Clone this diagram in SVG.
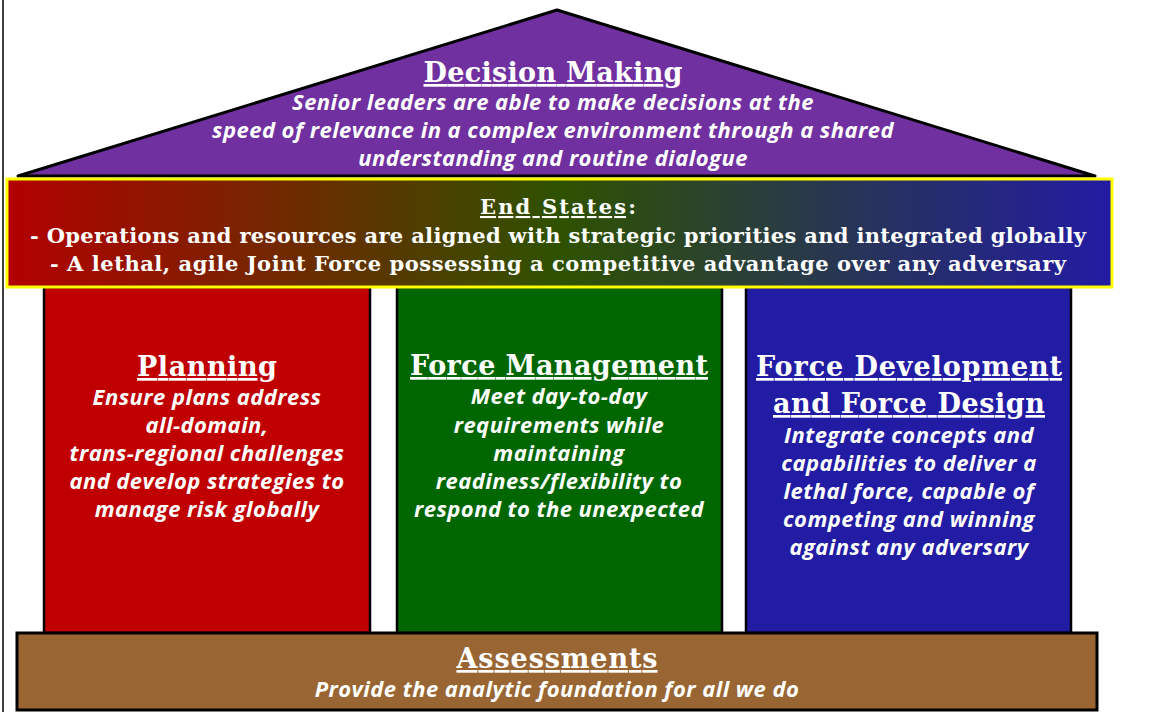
<svg xmlns="http://www.w3.org/2000/svg" width="1161" height="712" viewBox="0 0 1161 712">
<defs>
<linearGradient id="endg" x1="0" y1="0" x2="1" y2="0">
<stop offset="0" stop-color="#B30000"/>
<stop offset="0.5" stop-color="#2E5200"/>
<stop offset="1" stop-color="#221BA3"/>
</linearGradient>
</defs>
<style>
.t{font-family:"DejaVu Serif","Liberation Serif",serif;font-weight:bold;fill:#fff;text-anchor:middle;text-decoration:underline}
.b{font-family:"Open Sans","Lato",sans-serif;font-weight:bold;font-style:italic;fill:#fff;text-anchor:middle;font-size:22px;letter-spacing:0.45px}
.e{font-family:"DejaVu Serif","Liberation Serif",serif;font-weight:bold;fill:#fff;text-anchor:middle;font-size:21px}
.col{stroke:#000;stroke-width:2.5}
</style>
<rect width="1161" height="712" fill="#fff"/>
<line x1="3" y1="0" x2="3" y2="712" stroke="#000" stroke-width="1.5"/>
<g id="decision">
<polygon points="557,10 1095,176 18,176" fill="#7030A0" stroke="#000" stroke-width="3" stroke-linejoin="round"/>
<text class="t" x="553" y="82" font-size="27" textLength="259" lengthAdjust="spacing">Decision Making</text>
<text class="b" x="553" y="110">Senior leaders are able to make decisions at the</text>
<text class="b" x="553" y="138">speed of relevance in a complex environment through a shared</text>
<text class="b" x="553" y="166">understanding and routine dialogue</text>
</g>
<g id="planning">
<rect class="col" x="44" y="287" width="326" height="346" fill="#C00000"/>
<text class="t" x="207" y="376" font-size="27" textLength="140" lengthAdjust="spacing">Planning</text>
<text class="b" x="207" y="405">Ensure plans address</text>
<text class="b" x="207" y="433">all-domain,</text>
<text class="b" x="207" y="461">trans-regional challenges</text>
<text class="b" x="207" y="489">and develop strategies to</text>
<text class="b" x="207" y="517">manage risk globally</text>
</g>
<g id="force-management">
<rect class="col" x="397" y="287" width="325" height="346" fill="#006600"/>
<text class="t" x="559" y="375" font-size="27" textLength="298" lengthAdjust="spacing">Force Management</text>
<text class="b" x="559" y="404">Meet day-to-day</text>
<text class="b" x="559" y="433">requirements while</text>
<text class="b" x="559" y="461">maintaining</text>
<text class="b" x="559" y="489">readiness/flexibility to</text>
<text class="b" x="559" y="517">respond to the unexpected</text>
</g>
<g id="force-development">
<rect class="col" x="746" y="287" width="325" height="346" fill="#221BA3"/>
<text class="t" x="909" y="376" font-size="27" textLength="306" lengthAdjust="spacing">Force Development</text>
<text class="t" x="909" y="413" font-size="27" textLength="272" lengthAdjust="spacing">and Force Design</text>
<text class="b" x="909" y="443">Integrate concepts and</text>
<text class="b" x="909" y="471">capabilities to deliver a</text>
<text class="b" x="909" y="499">lethal force, capable of</text>
<text class="b" x="909" y="527">competing and winning</text>
<text class="b" x="909" y="555">against any adversary</text>
</g>
<g id="end-states">
<rect x="7" y="179" width="1105" height="108" fill="url(#endg)" stroke="#FFFF00" stroke-width="3"/>
<text class="e" x="558" y="214" font-size="25" textLength="156" lengthAdjust="spacing"><tspan text-decoration="underline">End States</tspan>:</text>
<text class="e" x="558" y="243" textLength="1056" lengthAdjust="spacing">- Operations and resources are aligned with strategic priorities and integrated globally</text>
<text class="e" x="558" y="271" textLength="1016" lengthAdjust="spacing">- A lethal, agile Joint Force possessing a competitive advantage over any adversary</text>
</g>
<g id="assessments">
<rect x="17" y="633" width="1080" height="77" fill="#996633" stroke="#000" stroke-width="3"/>
<text class="t" x="557" y="668" font-size="27" textLength="201" lengthAdjust="spacing">Assessments</text>
<text class="b" x="557" y="697">Provide the analytic foundation for all we do</text>
</g>
<g id="connectors"></g>
</svg>
